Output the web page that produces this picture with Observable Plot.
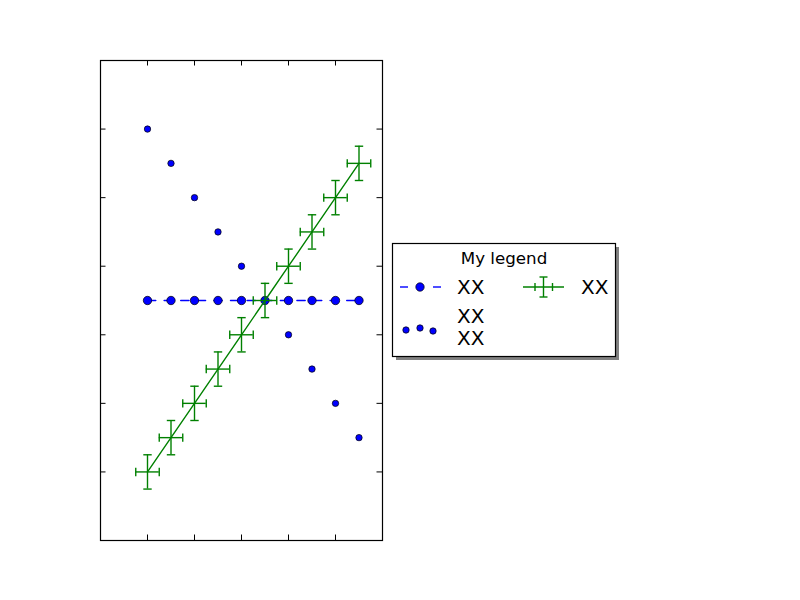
<!DOCTYPE html>
<html>
<head>
<meta charset="utf-8">
<script src="https://cdn.jsdelivr.net/npm/d3@7"></script>
<script src="https://cdn.jsdelivr.net/npm/@observablehq/plot@0.6"></script>
<style>
  body { margin: 0; background: #fff; font-family: "DejaVu Sans", sans-serif; }
  #wrap { position: relative; width: 800px; height: 600px; }
  #legend { position: absolute; left: 0; top: 0; }
</style>
</head>
<body>
<div id="wrap">
  <div id="chart"></div>
  <svg id="legend" width="800" height="600"></svg>
</div>
<script>
// data
const xValues = [0, 1, 2, 3, 4, 5, 6, 7, 8, 9];
const scatterY = [10, 9, 8, 7, 6, 5, 4, 3, 2, 1];
const flatY = [5, 5, 5, 5, 5, 5, 5, 5, 5, 5];
const diagY = [0, 1, 2, 3, 4, 5, 6, 7, 8, 9];
const xErr = [0.5, 0.5, 0.5, 0.5, 0.5, 0.5, 0.5, 0.5, 0.5, 0.5];
const yErr = [0.5, 0.5, 0.5, 0.5, 0.5, 0.5, 0.5, 0.5, 0.5, 0.5];
const xTicks = [0, 2, 4, 6, 8];
const yTicks = [0, 2, 4, 6, 8, 10];
const legendTitle = "My legend";
const legendLabels = ["XX", "XX\nXX", "XX"];

const blue = "#0000ff";
const green = "#008000";

const scatter = xValues.map((x, i) => ({x, y: scatterY[i]}));
const flat = xValues.map((x, i) => ({x, y: flatY[i]}));
const diag = xValues.map((x, i) => ({x, y: diagY[i], xe: xErr[i], ye: yErr[i]}));

// little line symbols for the error bar caps
const hcap = {draw(ctx, size) { const r = Math.sqrt(size / Math.PI); ctx.moveTo(-r, 0); ctx.lineTo(r, 0); }};
const vcap = {draw(ctx, size) { const r = Math.sqrt(size / Math.PI); ctx.moveTo(0, -r); ctx.lineTo(0, r); }};

const frameH = 480, frameW = 282, tick = 5.5;

const plot = Plot.plot({
  width: 800,
  height: 600,
  marginLeft: 100,
  marginRight: 418,
  marginTop: 60,
  marginBottom: 60,
  x: {domain: [-2, 10], axis: null},
  y: {domain: [-2, 12], axis: null},
  style: {fontFamily: "DejaVu Sans, sans-serif", background: "white"},
  marks: [
    Plot.frame({stroke: "black", strokeWidth: 1.2}),
    // inward ticks on all four sides
    Plot.ruleX(xTicks, {x: d => d, insetTop: frameH - tick, stroke: "black"}),
    Plot.ruleX(xTicks, {x: d => d, insetBottom: frameH - tick, stroke: "black"}),
    Plot.ruleY(yTicks, {y: d => d, insetRight: frameW - tick, stroke: "black"}),
    Plot.ruleY(yTicks, {y: d => d, insetLeft: frameW - tick, stroke: "black"}),
    Plot.dot(scatter, {x: "x", y: "y", r: 3.2, fill: blue, stroke: "black", strokeWidth: 0.7}),
    Plot.line(flat, {x: "x", y: "y", stroke: blue, strokeWidth: 1.4, strokeDasharray: "8.3,8.3"}),
    Plot.dot(flat, {x: "x", y: "y", r: 4.2, fill: blue, stroke: "black", strokeWidth: 0.7}),
    Plot.line(diag, {x: "x", y: "y", stroke: green, strokeWidth: 1.4}),
    Plot.ruleX(diag, {x: "x", y1: d => d.y - d.ye, y2: d => d.y + d.ye, stroke: green, strokeWidth: 1.4}),
    Plot.ruleY(diag, {y: "y", x1: d => d.x - d.xe, x2: d => d.x + d.xe, stroke: green, strokeWidth: 1.4}),
    Plot.dot(diag, {x: "x", y: d => d.y - d.ye, symbol: hcap, r: 4.2, fill: "none", stroke: green, strokeWidth: 1.4}),
    Plot.dot(diag, {x: "x", y: d => d.y + d.ye, symbol: hcap, r: 4.2, fill: "none", stroke: green, strokeWidth: 1.4}),
    Plot.dot(diag, {x: d => d.x - d.xe, y: "y", symbol: vcap, r: 4.2, fill: "none", stroke: green, strokeWidth: 1.4}),
    Plot.dot(diag, {x: d => d.x + d.xe, y: "y", symbol: vcap, r: 4.2, fill: "none", stroke: green, strokeWidth: 1.4})
  ]
});

d3.select("#chart").append(() => plot);

// legend, drawn by hand on top of the plot
const lg = d3.select("#legend");
lg.append("rect").attr("x", 396).attr("y", 247).attr("width", 223).attr("height", 113).attr("fill", "#808080");
lg.append("rect").attr("x", 392.5).attr("y", 243.5).attr("width", 223).attr("height", 113)
  .attr("fill", "white").attr("stroke", "black").attr("stroke-width", 1.2);
lg.append("text").attr("x", 504).attr("y", 264).attr("text-anchor", "middle")
  .attr("font-size", 16.7).text(legendTitle);

// row 1: dashed line with marker
lg.append("line").attr("x1", 400).attr("x2", 408).attr("y1", 287).attr("y2", 287).attr("stroke", blue).attr("stroke-width", 1.4);
lg.append("line").attr("x1", 433).attr("x2", 441).attr("y1", 287).attr("y2", 287).attr("stroke", blue).attr("stroke-width", 1.4);
lg.append("circle").attr("cx", 420).attr("cy", 287).attr("r", 4.2).attr("fill", blue).attr("stroke", "black").attr("stroke-width", 0.7);
lg.append("text").attr("x", 457).attr("y", 294).attr("font-size", 20).text(legendLabels[0]);

// row 2: scatter
[[406, 330], [420, 328], [433, 331]].forEach(([cx, cy]) => {
  lg.append("circle").attr("cx", cx).attr("cy", cy).attr("r", 3.2).attr("fill", blue).attr("stroke", "black").attr("stroke-width", 0.7);
});
legendLabels[1].split("\n").forEach((s, i) => {
  lg.append("text").attr("x", 457).attr("y", 323 + i * 22).attr("font-size", 20).text(s);
});

// column 2: error bar
const eb = lg.append("g").attr("stroke", green).attr("stroke-width", 1.4);
eb.append("line").attr("x1", 523).attr("x2", 564).attr("y1", 287).attr("y2", 287);
eb.append("line").attr("x1", 543.5).attr("x2", 543.5).attr("y1", 277).attr("y2", 297);
eb.append("line").attr("x1", 539.5).attr("x2", 547.5).attr("y1", 277).attr("y2", 277);
eb.append("line").attr("x1", 539.5).attr("x2", 547.5).attr("y1", 297).attr("y2", 297);
eb.append("line").attr("x1", 535).attr("x2", 535).attr("y1", 283).attr("y2", 291);
eb.append("line").attr("x1", 552.5).attr("x2", 552.5).attr("y1", 283).attr("y2", 291);
lg.append("text").attr("x", 581).attr("y", 294).attr("font-size", 20).text(legendLabels[2]);
</script>
</body>
</html>
